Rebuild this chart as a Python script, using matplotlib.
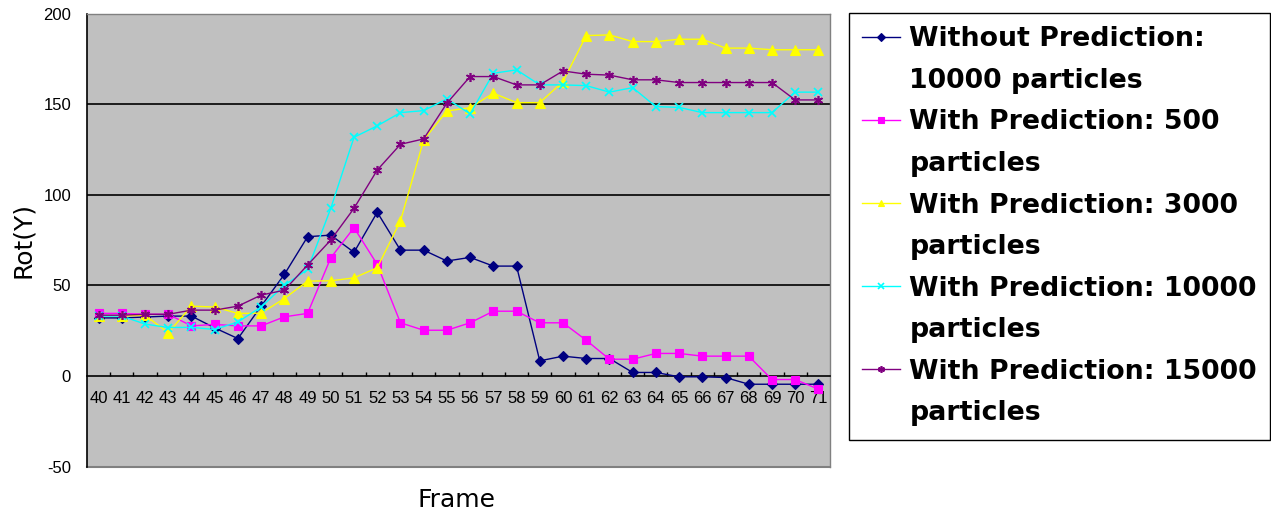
import matplotlib
matplotlib.use("Agg")
import matplotlib.pyplot as plt
from matplotlib.lines import Line2D
import numpy as np

plt.rcParams["axes.unicode_minus"] = False

frames = list(range(40, 72))
without_10000 = [32, 32, 32.5, 33, 33, 26.5, 20.6, 38.5, 56, 76.8, 77.7, 68.2, 90.3, 69.4, 69.4, 63.4,
                 65.4, 60.6, 60.6, 8.3, 10.9, 9.6, 9.6, 1.9, 1.9, -0.5, -0.5, -0.9, -4.6, -4.6, -4.6, -4.6]
with_500 = [34.5, 34.5, 34, 34, 27.6, 28.4, 27.6, 27.6, 32.6, 34.5, 65.2, 81.8, 61.5, 29.3, 25.2, 25.2,
            29.3, 35.7, 35.7, 29.3, 29.3, 19.7, 9.2, 9.2, 12.4, 12.4, 10.9, 10.9, 10.9, -2, -2, -7.3]
with_3000 = [33, 33, 33.5, 23.8, 38.5, 38, 34.5, 34.6, 42.7, 52.3, 52.5, 54.1, 59.7, 85.5, 130.2, 146.2,
             148, 156, 150.8, 150.8, 162.4, 187.8, 188.2, 184.5, 184.5, 185.8, 185.8, 180.9, 180.9, 180, 180, 180]
with_10000 = [33, 33, 28.6, 26.7, 26.8, 25.6, 29.8, 38, 50, 58.8, 92.5, 131.7, 138, 145.3, 146.4, 152.9,
              144.6, 167, 168.9, 160.6, 160.6, 160.2, 156.6, 159.1, 148.6, 148.2, 145.3, 145.3, 145.3, 145.3, 156.6, 156.6]
with_15000 = [33.5, 33.5, 34, 34, 36.3, 36.3, 38.5, 44.6, 47.3, 61.2, 75, 92.5, 113.6, 127.8, 130.8, 150.5,
              165.2, 165.2, 160.6, 160.6, 168.3, 166.5, 166, 163.4, 163.4, 161.9, 161.9, 161.9, 161.9, 161.9, 152.3, 152.3]

label_first = ["Without Prediction:", "With Prediction: 500", "With Prediction: 3000",
               "With Prediction: 10000", "With Prediction: 15000"]
label_second = ["10000 particles", "particles", "particles", "particles", "particles"]
series = [without_10000, with_500, with_3000, with_10000, with_15000]
colors = ["#000080", "#FF00FF", "#FFFF00", "#00FFFF", "#800080"]
markers = ["D", "s", "^", "x", (6, 2, 0)]
msizes = [5.5, 6, 6.5, 6, 6.5]

tick_font = "Liberation Sans"
tick_size = 12

fig = plt.figure(figsize=(12.71, 5.16), dpi=100)
fig.patch.set_facecolor("white")
W, H = 1271, 516
left, right, top, bottom = 87, 830, 13.5, 466.5
ax = fig.add_axes([left / W, 1 - bottom / H, (right - left) / W, (bottom - top) / H])
ax.set_facecolor("#C0C0C0")

x = np.arange(len(frames))
lines = []
for ys, c, m, ms in zip(series, colors, markers, msizes):
    mew = 1.2 if m in ("x", (6, 2, 0)) else 0.8
    ln, = ax.plot(x, ys, color=c, marker=m, markersize=ms, linewidth=1.0,
                  markeredgecolor=c, markerfacecolor=c, markeredgewidth=mew, zorder=3)
    lines.append(ln)

ax.set_xlim(-0.5, len(frames) - 0.5)
ax.set_ylim(-50, 200)
ax.set_yticks([-50, 0, 50, 100, 150, 200])
for yv in [50, 100, 150]:
    ax.axhline(yv, color="black", linewidth=1.2, zorder=1)
ax.axhline(-50, color="#808080", linewidth=1.5, zorder=1, clip_on=False)

ax.spines["bottom"].set_position(("data", 0))
ax.spines["bottom"].set_color("black")
ax.spines["bottom"].set_linewidth(1.2)
for s in ["top", "right"]:
    ax.spines[s].set_color("#808080")
    ax.spines[s].set_linewidth(1.0)
ax.spines["left"].set_color("black")
ax.spines["left"].set_linewidth(1.2)

ax.set_xticks(x)
ax.set_xticklabels([str(f) for f in frames], fontsize=tick_size, family=tick_font)
ax.set_xticks(np.arange(0.5, len(frames) - 0.5, 1), minor=True)
ax.tick_params(axis="x", which="major", length=0, pad=11)
ax.tick_params(axis="x", which="minor", direction="in", length=3, width=1.0, color="black")
ax.tick_params(axis="y", length=0, pad=11.5)
for t in ax.get_yticklabels():
    t.set_family(tick_font)
    t.set_fontsize(tick_size)

fig.text(23 / W, 1 - 240 / H, "Rot(Y)", rotation=90, ha="center", va="center",
         fontsize=18, family="DejaVu Sans")
fig.text(456 / W, 1 - 500 / H, "Frame", ha="center", va="center",
         fontsize=18, family="DejaVu Sans")

handles, texts = [], []
for ln, a, b in zip(lines, label_first, label_second):
    handles.append(ln)
    texts.append(a)
    handles.append(Line2D([], [], color="none", marker=None, linestyle="none"))
    texts.append(b)

leg = fig.legend(handles, texts, loc="upper left", bbox_to_anchor=(849 / W, 1 - 13 / H),
                 frameon=True, fancybox=False, edgecolor="black", framealpha=1,
                 prop={"family": "DejaVu Sans", "weight": "bold", "size": 19.3},
                 handlelength=1.4, handletextpad=0.35, borderpad=0.5, labelspacing=0.58,
                 markerscale=0.75, borderaxespad=0)
leg.get_frame().set_linewidth(1.0)

fig.savefig("out.png", dpi=100)
